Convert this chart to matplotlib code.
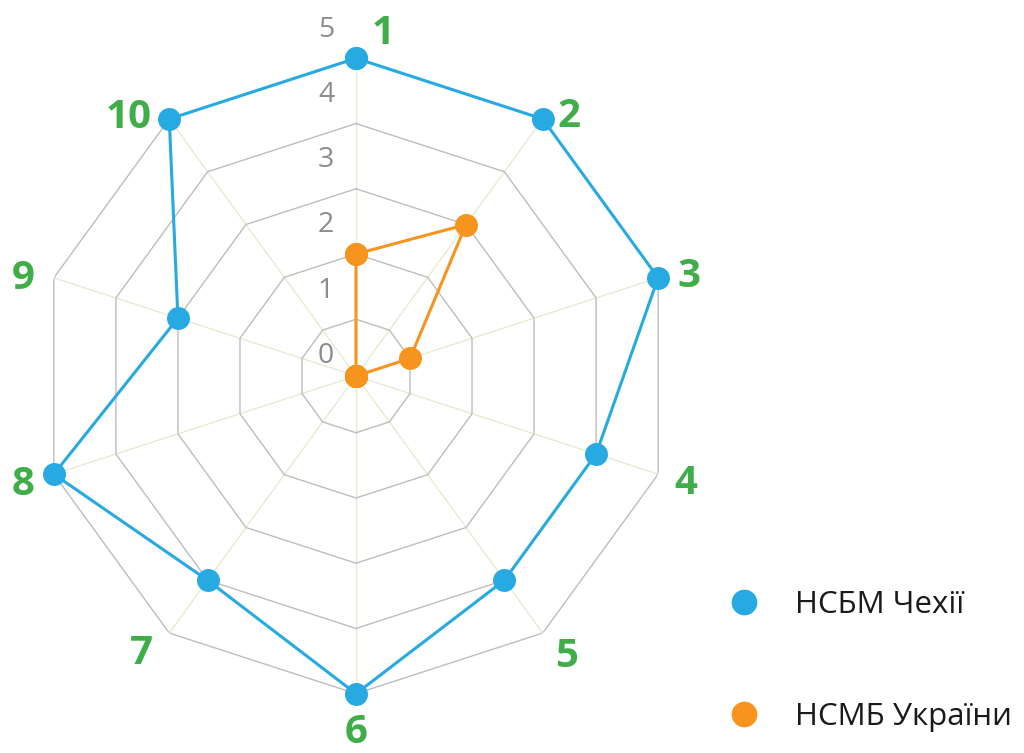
import numpy as np
import matplotlib
matplotlib.use("Agg")
import matplotlib.pyplot as plt
from matplotlib.lines import Line2D

# ---- data ----
categories = ["1", "2", "3", "4", "5", "6", "7", "8", "9", "10"]
czech = [5, 5, 5, 4, 4, 5, 4, 5, 3, 5]
ukraine = [2, 3, 1, 0, 0, 0, 0, 0, 0, 0]
series_names = ["НСБМ Чехії", "НСМБ України"]
r_ticks = [0, 1, 2, 3, 4, 5]

# ---- style / layout ----
BLUE = "#27a9e1"
ORANGE = "#f7941d"
GREEN = "#3fae49"
RING = "#bdbdbd"
SPOKE = "#e3edd3"
TICK = "#8c8c8c"
RMIN, RMAX = 0.13, 5
label_r = [5.4, 5.28, 5.45, 5.45, 5.5, 5.6, 5.5, 5.5, 5.45, 5.4]
label_dangle = [4.5, 3.4, 1.4, 0.0, -0.9, 0.0, 1.7, -0.1, -1.6, -5.3]

fig = plt.figure(figsize=(10.24, 7.53), dpi=100)
W, H = 1024, 753
cx, cy, R = 356, 376, 317.7
ax = fig.add_axes([(cx - R) / W, (H - cy - R) / H, 2 * R / W, 2 * R / H],
                  projection="polar")
ax.set_theta_zero_location("N")
ax.set_theta_direction(-1)
ax.set_ylim(RMIN, RMAX)
ax.grid(False)
ax.spines["polar"].set_visible(False)
ax.set_xticks([])
ax.set_yticks([])
ax.patch.set_alpha(0)

n = len(categories)
theta = np.arange(n) * 2 * np.pi / n
theta_closed = np.append(theta, theta[0])

# spokes
for t in theta:
    ax.plot([t, t], [RMIN, RMAX], color=SPOKE, lw=1.0, zorder=1)
# rings
for v in r_ticks[1:]:
    ax.plot(theta_closed, [v] * (n + 1), color=RING, lw=1.0, zorder=2)

# radial tick labels
for v in r_ticks:
    ax.annotate(str(v), xy=(0, v + 0.44), xytext=(-30, 0),
                textcoords="offset pixels", ha="center", va="center",
                fontsize=20.5, color=TICK, family="Open Sans", zorder=3,
                annotation_clip=False)

# category labels
for i, lab in enumerate(categories):
    ax.text(theta[i] + np.deg2rad(label_dangle[i]), label_r[i], lab,
            ha="center", va="center", fontsize=29, fontweight="bold",
            color=GREEN, family="Open Sans", clip_on=False)

# series
def draw(vals, color, z):
    v = np.clip(np.array(vals, dtype=float), RMIN, None)
    v = np.append(v, v[0])
    ax.plot(theta_closed, v, color=color, lw=2.2, marker="o", markersize=15.5,
            clip_on=False, zorder=z)

draw(czech, BLUE, 5)
draw(ukraine, ORANGE, 6)

handles = [Line2D([], [], ls="none", marker="o", markersize=17.5, color=BLUE),
           Line2D([], [], ls="none", marker="o", markersize=17.5, color=ORANGE)]
leg = fig.legend(handles, series_names, loc="center left",
                 bbox_to_anchor=(728 / W, 1 - 661 / H), frameon=False,
                 prop={"family": "Open Sans", "size": 22.5},
                 labelspacing=2.65, handletextpad=1.15, handlelength=1.0,
                 borderpad=0, borderaxespad=0)
for t in leg.get_texts():
    t.set_color("#1a1a1a")

fig.savefig("out.png", dpi=100)
